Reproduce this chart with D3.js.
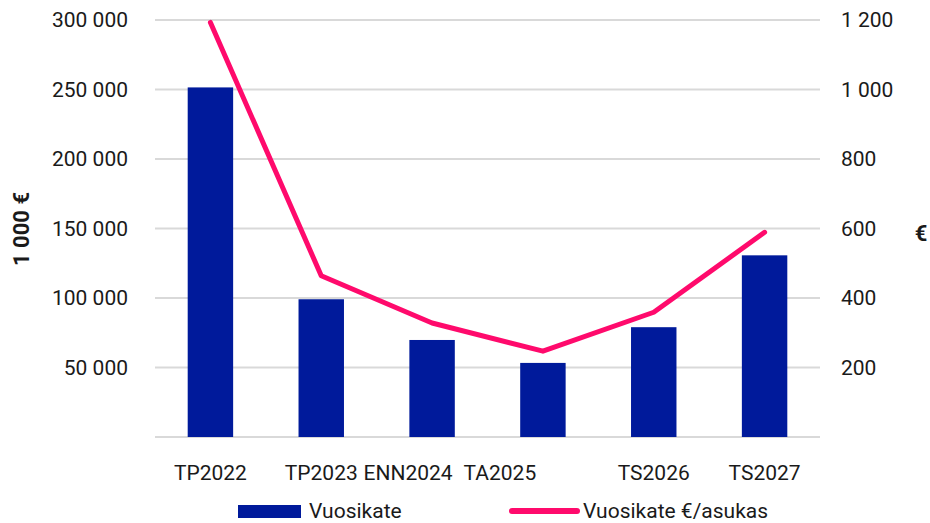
<!DOCTYPE html>
<html>
<head>
<meta charset="utf-8">
<script src="https://cdn.jsdelivr.net/npm/d3@7"></script>
<style>
  body { margin: 0; background: #fff; }
  text { font-family: Roboto, "Noto Sans", sans-serif; fill: #1a1a1a; }
</style>
</head>
<body>
<div id="chart"></div>
<script>
"use strict";

// data
var categories = ["TP2022", "TP2023", "ENN2024", "TA2025", "TS2026", "TS2027"];
var vuosikate = [251500, 99100, 69800, 53300, 79000, 130700];      // 1 000 €
var perAsukas = [1193, 464, 328, 247, 359, 589];                  // €/asukas
var leftTicks = [50000, 100000, 150000, 200000, 250000, 300000];
var rightTicks = [200, 400, 600, 800, 1000, 1200];

var W = 930, H = 523;
var plot = {left: 155, right: 820, top: 20, bottom: 437};

var barColor = "#001a9b",
    lineColor = "#ff0a6c",
    gridColor = "#d9d9d9",
    fontSize = "21px";

// label nudges to match the original layout (trailing spaces in source labels)
var labelShift = {"ENN2024": -24, "TA2025": -43};

var fmt = function(v) { return d3.format(",")(v).replace(/,/g, " "); };

var svg = d3.select("#chart").append("svg")
    .attr("width", W)
    .attr("height", H);

var x = d3.scaleBand()
    .domain(categories)
    .range([plot.left, plot.right])
    .paddingInner(0.59)
    .paddingOuter(0.295);

var y = d3.scaleLinear().domain([0, 300000]).range([plot.bottom, plot.top]);
var y2 = d3.scaleLinear().domain([0, 1200]).range([plot.bottom, plot.top]);

// gridlines
svg.append("g")
    .selectAll("line")
    .data([0].concat(leftTicks))
    .enter().append("line")
    .attr("x1", plot.left)
    .attr("x2", plot.right)
    .attr("y1", d => y(d))
    .attr("y2", d => y(d))
    .attr("stroke", gridColor)
    .attr("stroke-width", 2);

// left axis labels
var axisL = d3.axisLeft(y).tickValues(leftTicks).tickFormat(fmt).tickSize(0).tickPadding(0);
svg.append("g")
    .attr("transform", "translate(128,0)")
    .call(axisL)
    .call(g => g.select(".domain").remove())
    .selectAll("text")
    .style("font-size", fontSize)
    .attr("fill", "#1a1a1a");

// right axis labels
var axisR = d3.axisRight(y2).tickValues(rightTicks).tickFormat(fmt).tickSize(0).tickPadding(0);
svg.append("g")
    .attr("transform", "translate(841,0)")
    .call(axisR)
    .call(g => g.select(".domain").remove())
    .selectAll("text")
    .style("font-size", fontSize)
    .attr("fill", "#1a1a1a");

// bars
svg.append("g")
    .selectAll("rect")
    .data(categories)
    .enter().append("rect")
    .attr("x", d => x(d))
    .attr("width", x.bandwidth())
    .attr("y", (d, i) => y(vuosikate[i]))
    .attr("height", (d, i) => y(0) - y(vuosikate[i]))
    .attr("fill", barColor);

// line
var line = d3.line()
    .x((d, i) => x(categories[i]) + x.bandwidth() / 2)
    .y(d => y2(d));

svg.append("path")
    .datum(perAsukas)
    .attr("d", line)
    .attr("fill", "none")
    .attr("stroke", lineColor)
    .attr("stroke-width", 5)
    .attr("stroke-linecap", "round")
    .attr("stroke-linejoin", "round");

// category labels
svg.append("g")
    .selectAll("text")
    .data(categories)
    .enter().append("text")
    .attr("x", d => x(d) + x.bandwidth() / 2 + (labelShift[d] || 0))
    .attr("y", 480)
    .attr("text-anchor", "middle")
    .style("font-size", fontSize)
    .text(d => d);

// axis titles
svg.append("text")
    .attr("transform", "translate(29,229) rotate(-90)")
    .attr("text-anchor", "middle")
    .style("font-size", "22px")
    .style("font-weight", "bold")
    .text("1 000 €");

svg.append("text")
    .attr("x", 921)
    .attr("y", 241)
    .attr("text-anchor", "middle")
    .style("font-size", "22px")
    .style("font-weight", "bold")
    .text("€");

// legend
var legend = svg.append("g");
legend.append("rect")
    .attr("x", 238).attr("y", 505)
    .attr("width", 63).attr("height", 13)
    .attr("fill", barColor);
legend.append("text")
    .attr("x", 309).attr("y", 518)
    .style("font-size", fontSize)
    .text("Vuosikate");
legend.append("line")
    .attr("x1", 512).attr("x2", 577)
    .attr("y1", 511).attr("y2", 511)
    .attr("stroke", lineColor)
    .attr("stroke-width", 6)
    .attr("stroke-linecap", "round");
legend.append("text")
    .attr("x", 583).attr("y", 518)
    .style("font-size", fontSize)
    .text("Vuosikate €/asukas");
</script>
</body>
</html>
